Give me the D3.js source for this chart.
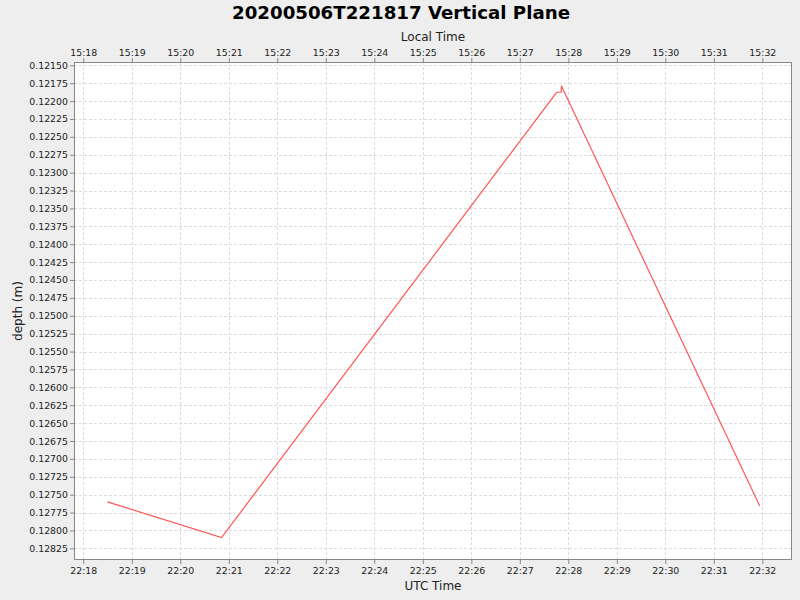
<!DOCTYPE html>
<html><head><meta charset="utf-8">
<script src="https://cdn.jsdelivr.net/npm/d3@7"></script>
<style>
html,body{margin:0;padding:0;background:#eeeeee;}
svg{display:block;font-family:"DejaVu Sans",sans-serif;}
</style></head>
<body>
<svg id="c" width="800" height="600"></svg>
<script>
// Data (UTC times, depth in metres)
const times = ["2020-05-06T22:18:29.7Z","2020-05-06T22:20:51.0Z","2020-05-06T22:27:45.6Z","2020-05-06T22:27:51.3Z","2020-05-06T22:27:51.4Z","2020-05-06T22:31:56.8Z"];
const depths = [0.12760, 0.12810, 0.121877, 0.121877, 0.121785, 0.127659];
const yTicks = [0.12150,0.12175,0.12200,0.12225,0.12250,0.12275,0.12300,0.12325,0.12350,0.12375,0.12400,0.12425,0.12450,0.12475,0.12500,0.12525,0.12550,0.12575,0.12600,0.12625,0.12650,0.12675,0.12700,0.12725,0.12750,0.12775,0.12800,0.12825];
const title = "20200506T221817 Vertical Plane";
const localOffsetHours = -7;

const data = times.map((t,i)=>({t:new Date(t), d:depths[i]}));
const svg = d3.select("#c");
const L=74, R=792, T=62, B=560;

const x = d3.scaleUtc()
  .domain([new Date("2020-05-06T22:17:48.5Z"), new Date("2020-05-06T22:32:36.7Z")])
  .range([L,R]);
const y = d3.scaleLinear().domain([0.121454, 0.128413]).range([T,B]);
const xTicks = x.ticks(d3.utcMinute.every(1));

svg.append("rect").attr("x",L).attr("y",T).attr("width",R-L).attr("height",B-T).attr("fill","#ffffff");

const grid = svg.append("g").attr("stroke","#dcdcdc").attr("stroke-width",1).attr("stroke-dasharray","3,2");
xTicks.forEach(t=>{
  const xp=Math.round(x(t))+0.5;
  grid.append("line").attr("x1",xp).attr("x2",xp).attr("y1",T).attr("y2",B);
});
yTicks.forEach(v=>{
  const yp=Math.round(y(v))+0.5;
  grid.append("line").attr("x1",L).attr("x2",R).attr("y1",yp).attr("y2",yp);
});

// series
const line = d3.line().x(d=>x(d.t)).y(d=>y(d.d));
svg.append("path").datum(data).attr("d",line).attr("fill","none").attr("stroke","#ff5555").attr("stroke-width",1.2);

// border
svg.append("rect").attr("x",L+0.5).attr("y",T+0.5).attr("width",R-L-1).attr("height",B-T-1)
  .attr("fill","none").attr("stroke","#888888");

const fmt = d3.utcFormat("%H:%M");
const fmtLocal = t => fmt(new Date(t.getTime()+localOffsetHours*3600000));

function styleAxis(g){
  g.select(".domain").remove();
  g.selectAll(".tick line").attr("stroke","#888888");
  g.selectAll(".tick text").attr("fill","#222").attr("font-size","9.4px").attr("font-family","DejaVu Sans, sans-serif");
}

svg.append("g").attr("transform",`translate(0,${B})`)
  .call(d3.axisBottom(x).tickValues(xTicks).tickFormat(fmt).tickSizeInner(4).tickSizeOuter(0).tickPadding(3))
  .call(styleAxis);
svg.append("g").attr("transform",`translate(0,${T})`)
  .call(d3.axisTop(x).tickValues(xTicks).tickFormat(fmtLocal).tickSizeInner(4).tickSizeOuter(0).tickPadding(2))
  .call(styleAxis);
svg.append("g").attr("transform",`translate(${L},0)`)
  .call(d3.axisLeft(y).tickValues(yTicks).tickFormat(d3.format(".5f")).tickSizeInner(4).tickSizeOuter(0).tickPadding(2))
  .call(styleAxis);

svg.append("text").attr("x",401).attr("y",19).attr("text-anchor","middle")
  .attr("font-size","18.2px").attr("font-weight","bold").attr("fill","#000").text(title);
svg.append("text").attr("x",(L+R)/2).attr("y",41).attr("text-anchor","middle")
  .attr("font-size","12px").attr("fill","#222").text("Local Time");
svg.append("text").attr("x",(L+R)/2).attr("y",590).attr("text-anchor","middle")
  .attr("font-size","12px").attr("fill","#222").text("UTC Time");
svg.append("text").attr("transform",`translate(22,${(T+B)/2}) rotate(-90)`).attr("text-anchor","middle")
  .attr("font-size","12px").attr("fill","#222").text("depth (m)");
</script>
</body></html>
